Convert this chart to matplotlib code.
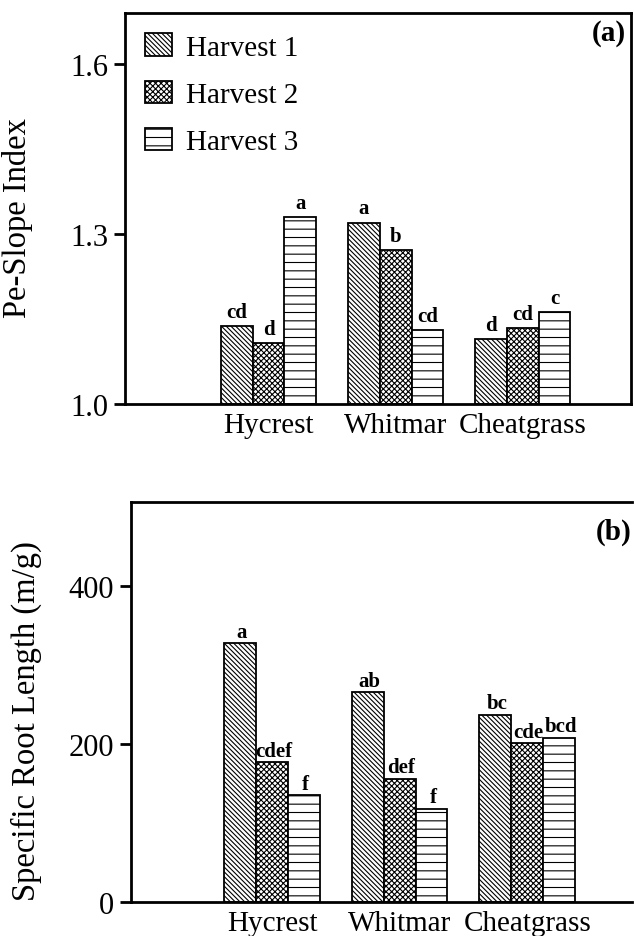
import numpy as np
import matplotlib
matplotlib.use("Agg")
import matplotlib.pyplot as plt

plt.rcParams['font.family'] = ['Liberation Serif', 'DejaVu Serif']
plt.rcParams['hatch.linewidth'] = 0.8

# data
species = ['Hycrest', 'Whitmar', 'Cheatgrass']
harvests = ['Harvest 1', 'Harvest 2', 'Harvest 3']
pe_slope = [[1.138, 1.320, 1.115],
            [1.108, 1.271, 1.134],
            [1.330, 1.131, 1.162]]
pe_letters = [['cd', 'a', 'd'],
              ['d', 'b', 'cd'],
              ['a', 'cd', 'c']]
srl = [[327, 265, 237],
       [177, 156, 201],
       [135, 118, 208]]
srl_letters = [['a', 'ab', 'bc'],
               ['cdef', 'def', 'cde'],
               ['f', 'f', 'bcd']]

hatches = ['\\' * 7, 'x' * 6, '--']
width = 0.25

fig = plt.figure(figsize=(6.34, 9.37), dpi=100)
ax1 = fig.add_axes([0.197, 0.5678, 0.798, 0.4173])
ax2 = fig.add_axes([0.2066, 0.0363, 0.79, 0.4269])


def draw_panel(ax, values, letters, ylim, ticks, ticklabels, ylabel, tag, xlim):
    x = np.arange(len(species))
    for i, (vals, lets) in enumerate(zip(values, letters)):
        pos = x + (i - 1) * width
        bars = ax.bar(pos, np.array(vals) - ylim[0], width, bottom=ylim[0],
                      facecolor='white', edgecolor='black', linewidth=1.3,
                      hatch=hatches[i], label=harvests[i])
        for b, v, t in zip(bars, vals, lets):
            ax.annotate(t, (b.get_x() + b.get_width() / 2, v),
                        xytext=(0, 3), textcoords='offset points',
                        ha='center', va='bottom', fontsize=15,
                        fontweight='bold')
    ax.set_ylim(*ylim)
    ax.set_xlim(*xlim)
    ax.set_yticks(ticks)
    ax.set_yticklabels(ticklabels)
    ax.set_xticks(x)
    ax.set_xticklabels(species)
    ax.tick_params(axis='y', direction='out', length=8, width=2,
                   labelsize=22, pad=4)
    ax.tick_params(axis='x', length=0, labelsize=21, pad=6)
    for s in ax.spines.values():
        s.set_linewidth(2)
    ax.set_ylabel(ylabel, fontsize=23.5)
    ax.text(0.99, 0.985, tag, transform=ax.transAxes, ha='right', va='top',
            fontsize=21, fontweight='bold')


draw_panel(ax1, pe_slope, pe_letters, (1.0, 1.69), [1.0, 1.3, 1.6],
           ['1.0', '1.3', '1.6'], 'Pe-Slope Index', '(a)', (-1.13, 2.85))
ax1.yaxis.set_label_coords(-0.182, 0.478)
ax1.legend(loc='upper left', frameon=False, fontsize=21,
           handlelength=0.9, handleheight=0.8, handletextpad=0.5,
           labelspacing=0.68, borderaxespad=0.3,
           bbox_to_anchor=(0.0, 1.0))

draw_panel(ax2, srl, srl_letters, (0, 506), [0, 200, 400],
           ['0', '200', '400'], 'Specific Root Length (m/g)', '(b)',
           (-1.106, 2.82))
ax2.spines['right'].set_visible(False)
ax2.yaxis.set_label_coords(-0.178, 0.455)
for t in ax2.texts:
    t.set_position((1.0, 0.96))

fig.savefig('out.png', dpi=100)
